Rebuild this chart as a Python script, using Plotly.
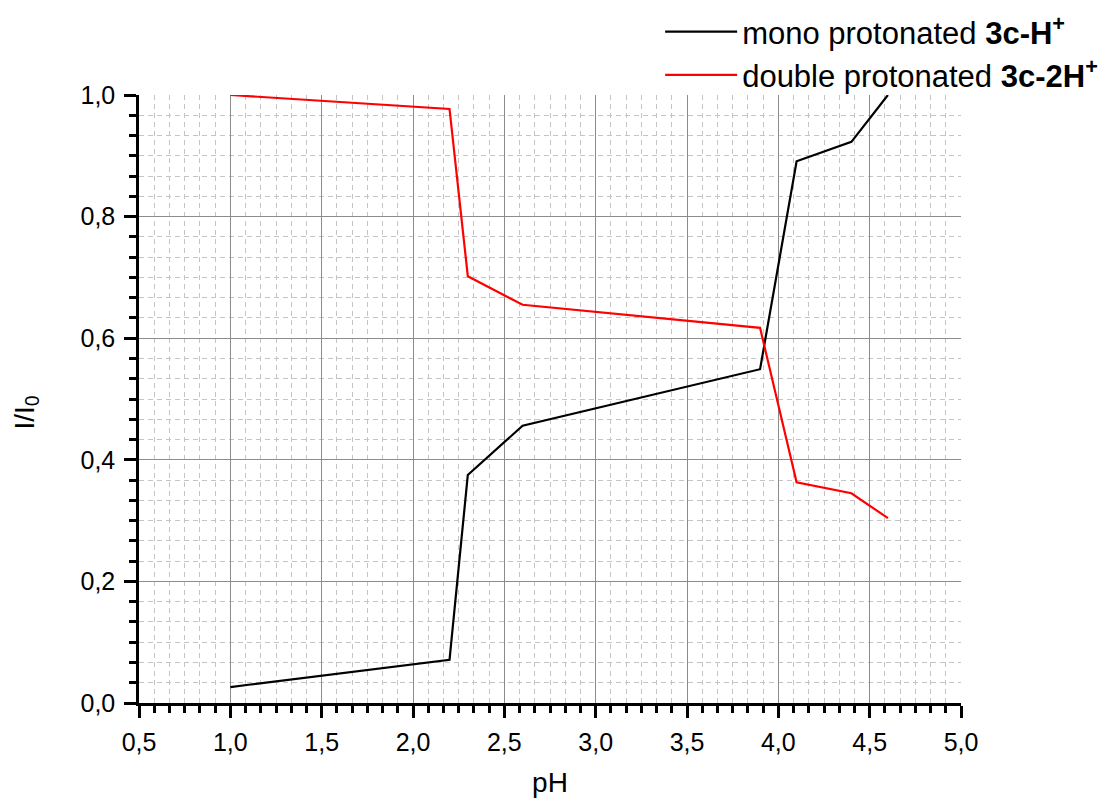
import plotly.graph_objects as go

# pH titration: relative intensities of the two protonated forms
ph = [1.0, 1.1, 2.2, 2.3, 2.6, 3.9, 4.1, 4.4, 4.6]
mono = [0.026, 0.030, 0.071, 0.375, 0.456, 0.549, 0.891, 0.923, 1.0]
double = [1.0, 0.998, 0.977, 0.702, 0.655, 0.617, 0.363, 0.345, 0.304]

x_ticks = [0.5, 1.0, 1.5, 2.0, 2.5, 3.0, 3.5, 4.0, 4.5, 5.0]
y_ticks = [0.0, 0.2, 0.4, 0.6, 0.8, 1.0]

FONT = "Liberation Sans, Arial, sans-serif"

fig = go.Figure()
fig.add_trace(go.Scatter(
    x=ph, y=mono, mode="lines",
    line=dict(color="black", width=2.2),
    name="mono protonated <b>3c-H<sup>+</sup></b>",
    legendgroup="mono",
))
fig.add_trace(go.Scatter(
    x=ph, y=double, mode="lines",
    line=dict(color="#ff0000", width=2.2),
    name="double protonated <b>3c-2H<sup>+</sup></b>",
    legendgroup="double",
))

axis_common = dict(
    showline=True, linecolor="black", linewidth=2.5,
    ticks="outside", ticklen=12, tickwidth=2.5, tickcolor="black",
    showgrid=True, gridcolor="#8c8c8c", gridwidth=1,
    zeroline=False, mirror=False,
    tickfont=dict(size=25, color="black", family=FONT),
    tickformat=".1f",
)

minor_common = dict(ticks="outside", ticklen=7, tickwidth=2.5, tickcolor="black",
                    showgrid=True, gridcolor="#c4c4c4", griddash="5px,4px", gridwidth=1)

fig.update_xaxes(
    **axis_common,
    range=[0.5, 5.0], tickvals=x_ticks, ticklabelstandoff=3,
    title=dict(text="pH", font=dict(size=28, family=FONT, color="black"), standoff=22),
    minor=dict(dtick=0.5 / 6, tick0=0.5, **minor_common),
)
fig.update_yaxes(
    **axis_common,
    range=[0.0, 1.0], tickvals=y_ticks, ticklabelstandoff=4,
    minor=dict(dtick=0.2 / 6, tick0=0.0, **minor_common),
)

# vertical axis caption
fig.add_annotation(
    text="I/I<sub>0</sub>", textangle=-90,
    xref="paper", yref="paper", x=-0.138, y=0.5, xanchor="center", yanchor="middle",
    yshift=-14, showarrow=False,
    font=dict(size=28, family=FONT, color="black"),
)

fig.update_layout(
    width=1106, height=798,
    margin=dict(l=139, r=145, t=95, b=95, autoexpand=False),
    paper_bgcolor="white", plot_bgcolor="white",
    separators=", ",
    font=dict(family=FONT, color="black"),
    showlegend=True,
    legend=dict(
        x=0.634, y=1.148, xref="paper", yref="paper", xanchor="left", yanchor="top",
        font=dict(size=31, family=FONT, color="black"),
        bgcolor="rgba(0,0,0,0)", itemwidth=72, tracegroupgap=0,
    ),
)

fig.write_html("out.html")
